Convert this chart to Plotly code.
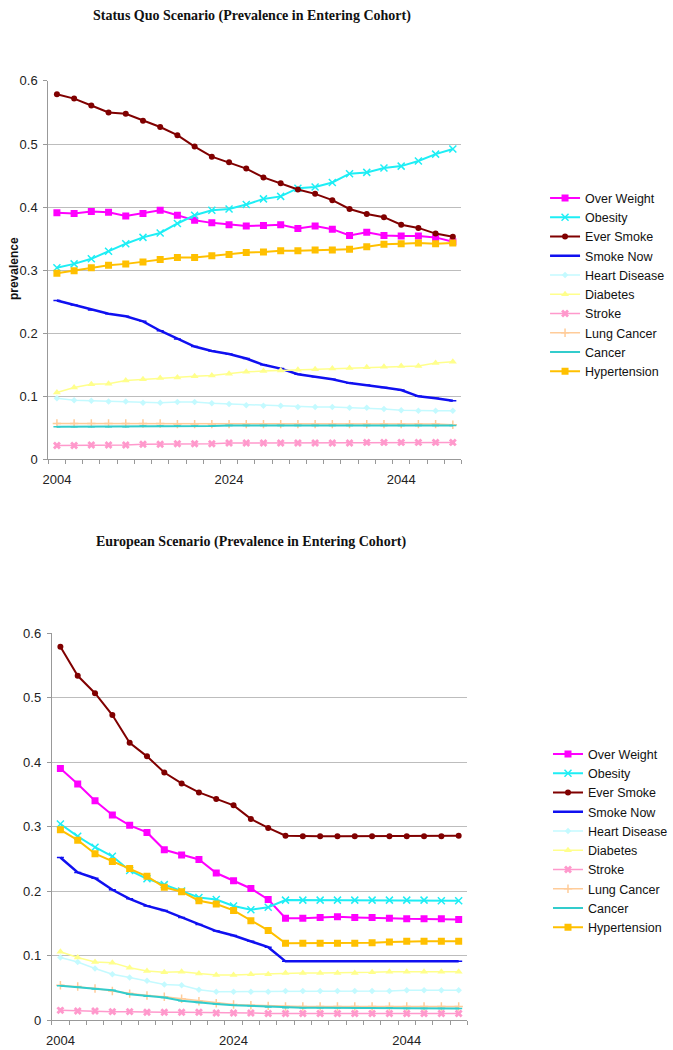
import plotly.graph_objects as go

W, H = 673, 1050

years = [2004, 2006, 2008, 2010, 2012, 2014, 2016, 2018, 2020, 2022, 2024, 2026,
         2028, 2030, 2032, 2034, 2036, 2038, 2040, 2042, 2044, 2046, 2048, 2050]
tick_years = [2004, 2024, 2044]
series_names = ["Over Weight", "Obesity", "Ever Smoke", "Smoke Now", "Heart Disease",
                "Diabetes", "Stroke", "Lung Cancer", "Cancer", "Hypertension"]

# ---- Status Quo scenario ----
sq_over_weight = [0.391, 0.390, 0.393, 0.392, 0.386, 0.390, 0.395, 0.387, 0.379, 0.375, 0.372, 0.370,
                  0.371, 0.372, 0.366, 0.370, 0.365, 0.355, 0.360, 0.355, 0.354, 0.354, 0.352, 0.345]
sq_obesity = [0.304, 0.310, 0.318, 0.330, 0.342, 0.352, 0.359, 0.374, 0.387, 0.395, 0.397, 0.404,
              0.413, 0.417, 0.430, 0.432, 0.439, 0.453, 0.455, 0.462, 0.465, 0.473, 0.484, 0.492]
sq_ever_smoke = [0.579, 0.572, 0.561, 0.550, 0.548, 0.537, 0.527, 0.514, 0.496, 0.480, 0.471, 0.461,
                 0.447, 0.438, 0.428, 0.421, 0.411, 0.397, 0.389, 0.384, 0.372, 0.367, 0.358, 0.353]
sq_smoke_now = [0.252, 0.245, 0.237, 0.231, 0.227, 0.219, 0.204, 0.191, 0.179, 0.172, 0.167, 0.160,
                0.150, 0.144, 0.135, 0.131, 0.127, 0.121, 0.118, 0.114, 0.110, 0.100, 0.097, 0.093]
sq_heart = [0.097, 0.094, 0.093, 0.092, 0.092, 0.090, 0.090, 0.091, 0.091, 0.089, 0.088, 0.086,
            0.085, 0.085, 0.083, 0.083, 0.083, 0.082, 0.082, 0.080, 0.078, 0.077, 0.077, 0.077]
sq_diabetes = [0.106, 0.114, 0.119, 0.120, 0.125, 0.127, 0.129, 0.130, 0.132, 0.133, 0.136, 0.139,
               0.140, 0.141, 0.142, 0.143, 0.144, 0.145, 0.146, 0.147, 0.148, 0.148, 0.153, 0.155]
sq_stroke = [0.022, 0.022, 0.023, 0.023, 0.023, 0.024, 0.024, 0.025, 0.025, 0.025, 0.026, 0.026,
             0.026, 0.026, 0.026, 0.026, 0.026, 0.026, 0.027, 0.027, 0.027, 0.027, 0.027, 0.027]
sq_lung_cancer = [0.057, 0.057, 0.057, 0.057, 0.057, 0.057, 0.057, 0.056, 0.056, 0.056, 0.056, 0.056,
                  0.056, 0.056, 0.056, 0.056, 0.056, 0.056, 0.056, 0.056, 0.056, 0.056, 0.056, 0.055]
sq_cancer = [0.052, 0.052, 0.052, 0.052, 0.052, 0.053, 0.053, 0.053, 0.053, 0.053, 0.054, 0.054,
             0.054, 0.054, 0.054, 0.054, 0.054, 0.054, 0.054, 0.054, 0.054, 0.054, 0.054, 0.054]
sq_hypertension = [0.295, 0.299, 0.304, 0.308, 0.310, 0.313, 0.317, 0.320, 0.320, 0.323, 0.325, 0.328,
                   0.329, 0.331, 0.331, 0.332, 0.332, 0.333, 0.337, 0.341, 0.342, 0.343, 0.342, 0.343]

# ---- European scenario ----
eu_over_weight = [0.390, 0.366, 0.340, 0.318, 0.302, 0.291, 0.264, 0.256, 0.249, 0.228, 0.216, 0.204,
                  0.187, 0.158, 0.158, 0.159, 0.160, 0.159, 0.159, 0.158, 0.157, 0.157, 0.157, 0.156]
eu_obesity = [0.304, 0.285, 0.268, 0.254, 0.232, 0.219, 0.210, 0.200, 0.190, 0.187, 0.177, 0.171,
              0.175, 0.186, 0.186, 0.186, 0.186, 0.186, 0.186, 0.186, 0.186, 0.186, 0.185, 0.185]
eu_ever_smoke = [0.579, 0.534, 0.507, 0.473, 0.430, 0.409, 0.384, 0.367, 0.353, 0.343, 0.333, 0.312,
                 0.298, 0.286, 0.285, 0.285, 0.285, 0.285, 0.285, 0.285, 0.285, 0.285, 0.285, 0.286]
eu_smoke_now = [0.252, 0.229, 0.220, 0.202, 0.188, 0.177, 0.170, 0.159, 0.148, 0.138, 0.131, 0.122,
                0.113, 0.091, 0.091, 0.091, 0.091, 0.091, 0.092, 0.092, 0.092, 0.092, 0.091, 0.091]
eu_heart = [0.097, 0.090, 0.080, 0.071, 0.066, 0.061, 0.055, 0.054, 0.047, 0.044, 0.044, 0.044,
            0.044, 0.045, 0.045, 0.045, 0.045, 0.045, 0.045, 0.045, 0.046, 0.046, 0.046, 0.046]
eu_diabetes = [0.106, 0.097, 0.090, 0.089, 0.081, 0.076, 0.074, 0.075, 0.072, 0.070, 0.070, 0.071,
               0.071, 0.073, 0.073, 0.073, 0.073, 0.073, 0.074, 0.075, 0.075, 0.075, 0.075, 0.075]
eu_stroke = [0.015, 0.014, 0.014, 0.013, 0.013, 0.012, 0.012, 0.012, 0.012, 0.011, 0.011, 0.011,
             0.010, 0.010, 0.010, 0.010, 0.010, 0.010, 0.010, 0.010, 0.010, 0.010, 0.010, 0.010]
eu_lung_cancer = [0.054, 0.052, 0.049, 0.045, 0.041, 0.038, 0.036, 0.033, 0.029, 0.026, 0.024, 0.023,
                  0.022, 0.021, 0.021, 0.021, 0.021, 0.021, 0.021, 0.021, 0.021, 0.021, 0.021, 0.021]
eu_cancer = [0.053, 0.051, 0.048, 0.046, 0.040, 0.037, 0.035, 0.030, 0.027, 0.025, 0.023, 0.022,
             0.020, 0.019, 0.019, 0.019, 0.019, 0.019, 0.019, 0.019, 0.018, 0.018, 0.018, 0.018]
eu_hypertension = [0.295, 0.279, 0.258, 0.246, 0.235, 0.223, 0.206, 0.199, 0.185, 0.180, 0.170, 0.154,
                   0.139, 0.119, 0.119, 0.119, 0.119, 0.119, 0.120, 0.121, 0.122, 0.122, 0.122, 0.122]

sq_data = [sq_over_weight, sq_obesity, sq_ever_smoke, sq_smoke_now, sq_heart,
           sq_diabetes, sq_stroke, sq_lung_cancer, sq_cancer, sq_hypertension]
eu_data = [eu_over_weight, eu_obesity, eu_ever_smoke, eu_smoke_now, eu_heart,
           eu_diabetes, eu_stroke, eu_lung_cancer, eu_cancer, eu_hypertension]

styles = [
    dict(color="#FF00FF", width=2, symbol="square", size=7),
    dict(color="#1EEEF5", width=2, symbol="x-thin", size=7),
    dict(color="#800000", width=2, symbol="circle", size=6),
    dict(color="#1010F0", width=2.5, symbol="line-ew", size=5),
    dict(color="#C4FAFF", width=1.5, symbol="diamond", size=5),
    dict(color="#FFFF8C", width=1.5, symbol="triangle-up", size=7),
    dict(color="#FF99CC", width=1.5, symbol="x", size=7),
    dict(color="#FFCC99", width=1.5, symbol="cross-thin", size=6),
    dict(color="#33CCCC", width=2, symbol="line-ew", size=5),
    dict(color="#FFC000", width=2, symbol="square", size=7),
]

fig = go.Figure()


def add_series(data, xaxis, yaxis, legend):
    for name, vals, st in zip(series_names, data, styles):
        thin = st["symbol"] in ("x-thin", "cross-thin", "line-ew")
        fig.add_trace(go.Scatter(
            x=years, y=vals, name=name, mode="lines+markers",
            xaxis=xaxis, yaxis=yaxis, legend=legend,
            line=dict(color=st["color"], width=st["width"]),
            marker=dict(symbol=st["symbol"], size=st["size"], color=st["color"],
                        line=dict(color=st["color"], width=1.5 if thin else 0)),
        ))


add_series(sq_data, "x", "y", "legend")
add_series(eu_data, "x2", "y2", "legend2")


def px_x(p):
    return p / W


def px_y(p):
    return 1 - p / H


tickfont = dict(family="Liberation Sans, Arial, sans-serif", size=13, color="#222")
legfont = dict(family="Liberation Sans, Arial, sans-serif", size=12.5, color="#111")

xcommon = dict(
    type="linear", range=[2003, 2051], tickmode="array", tickvals=tick_years,
    ticktext=[str(v) for v in tick_years], ticks="", showgrid=False, zeroline=False,
    showline=True, linecolor="#999", linewidth=1, tickfont=tickfont,
    ticklabelstandoff=8,
    minor=dict(tick0=2003, dtick=2, ticks="outside", ticklen=4, tickcolor="#999",
               showgrid=False),
)
ycommon = dict(
    range=[0, 0.6], tickvals=[0, 0.1, 0.2, 0.3, 0.4, 0.5, 0.6],
    ticktext=["0", "0.1", "0.2", "0.3", "0.4", "0.5", "0.6"],
    showgrid=True, gridcolor="#BDBDBD", gridwidth=1, zeroline=False,
    showline=True, linecolor="#999", linewidth=1, ticks="outside", ticklen=4,
    tickcolor="#999", tickfont=tickfont, ticklabelstandoff=3,
)

fig.update_layout(
    width=W, height=H, margin=dict(l=0, r=0, t=0, b=0),
    paper_bgcolor="white", plot_bgcolor="white",
    xaxis=dict(domain=[px_x(43), px_x(463)], anchor="y", **xcommon),
    yaxis=dict(domain=[px_y(459), px_y(75)], anchor="x", **ycommon),
    xaxis2=dict(domain=[px_x(46.5), px_x(469)], anchor="y2", **xcommon),
    yaxis2=dict(domain=[px_y(1027.7), px_y(635.3)], anchor="x2", **ycommon),
    legend=dict(x=px_x(548), y=px_y(179), xanchor="left", yanchor="top",
                font=legfont, bgcolor="rgba(0,0,0,0)", itemwidth=30, tracegroupgap=0),
    legend2=dict(x=px_x(551), y=px_y(743), xanchor="left", yanchor="top",
                 font=legfont, bgcolor="rgba(0,0,0,0)", itemwidth=30, tracegroupgap=0),
    showlegend=True,
    annotations=[
        dict(text="<b>Status Quo Scenario (Prevalence in Entering Cohort)</b>",
             x=px_x(250), y=1, xref="paper", yref="paper", showarrow=False,
             xanchor="center", yanchor="top", borderpad=0,
             font=dict(family="Liberation Serif, Times New Roman, serif", size=14, color="#111")),
        dict(text="<b>European Scenario (Prevalence in Entering Cohort)</b>",
             x=px_x(250), y=px_y(543), xref="paper", yref="paper", showarrow=False,
             xanchor="center", yanchor="middle",
             font=dict(family="Liberation Serif, Times New Roman, serif", size=14, color="#111")),
        dict(text="<b>prevalence</b>", textangle=-90,
             x=px_x(8), y=px_y(265), xref="paper", yref="paper", showarrow=False,
             xanchor="center", yanchor="middle",
             font=dict(family="Liberation Sans, Arial, sans-serif", size=12, color="#111")),
    ],
)

fig.write_html(
    "out.html",
    config={"displayModeBar": False},
    post_script="document.body.style.margin='0px';document.body.style.overflow='hidden';",
)
